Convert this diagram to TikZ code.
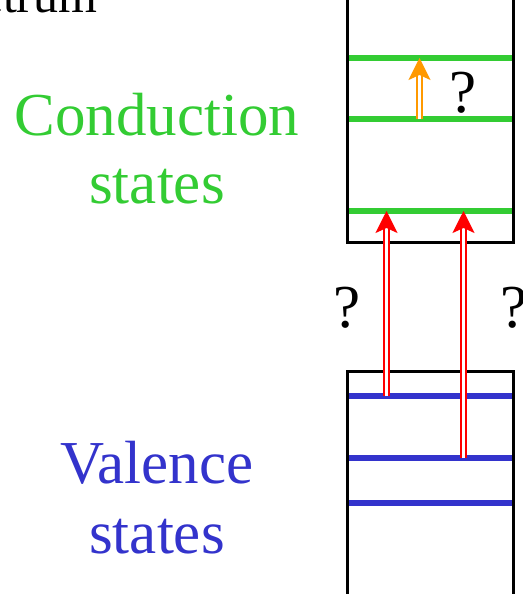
\documentclass[tikz,border=0pt]{standalone}
\usepackage{fontspec}
\setmainfont{Liberation Serif}
\definecolor{condgreen}{HTML}{33CC33}
\definecolor{valblue}{HTML}{3333CC}
\definecolor{excitered}{HTML}{FF0000}
\definecolor{intraorange}{HTML}{FF9900}
\usetikzlibrary{arrows.meta}
\tikzset{
  bandwall/.style={black, line width=3pt},
  level/.style={line width=5.5pt},
  excite/.style={double=white, double distance=3.2pt, line width=1.8pt,
                 -{Stealth[length=22pt, width=22pt, inset=5pt]}},
  bigtext/.style={font=\fontsize{61}{68}\selectfont, align=center},
}
\begin{document}
\begin{tikzpicture}[x=1pt, y=-1pt]
  \useasboundingbox (0,0) rectangle (522,594);
  \clip (0,0) rectangle (522,594);

  % Title, cut by the page
  \node[font=\fontsize{50}{56}\selectfont, anchor=base east] (title) at (101,13) {spectrum};

  % Conduction band
  \draw[bandwall] (347,-10) -- (347,242) -- (513,242) -- (513,-10);
  \foreach \y in {58,119,211} {
    \draw[level, condgreen] (348.5,\y) -- (511.5,\y);
  }
  \node[bigtext, condgreen, anchor=base] (cond) at (157,203) {Conduction\\states};

  % Valence band
  \draw[bandwall] (347,610) -- (347,371) -- (513,371) -- (513,610);
  \foreach \y in {396,458,503} {
    \draw[level, valblue] (348.5,\y) -- (511.5,\y);
  }
  \node[bigtext, valblue, anchor=base] (val) at (157,553) {Valence\\[2pt]states};

  % Transitions
  \coordinate (v1) at (386.5,396);  \coordinate (c1) at (386.5,211);
  \coordinate (v2) at (463.5,458);  \coordinate (c2) at (463.5,211);
  \coordinate (c3) at (419.5,119);  \coordinate (c4) at (419.5,58);
  \draw[excite, excitered] (v1) -- (c1);
  \draw[excite, excitered] (v2) -- (c2);
  \draw[excite, intraorange] (c3) -- (c4);

  % Question marks
  \node[bigtext, anchor=base] (qintra) at (463,112) {?};
  \node[bigtext, anchor=base] (qleft) at (347,327) {?};
  \node[bigtext, anchor=base] (qright) at (514,327) {?};
\end{tikzpicture}
\end{document}
